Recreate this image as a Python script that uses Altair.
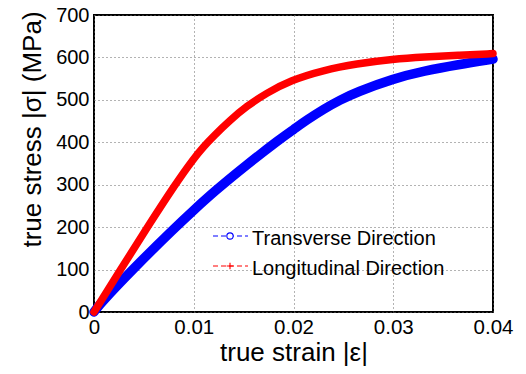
import altair as alt
import pandas as pd

# Transverse Direction (blue circles)
trans_strain = [0, 0.00067, 0.00384, 0.00817, 0.010, 0.012, 0.0153, 0.01866,
                0.020, 0.0213, 0.023, 0.0247, 0.0263, 0.030, 0.0331, 0.0365, 0.040]
trans_stress = [0, 21, 100, 200, 240, 283, 347, 408,
                430, 452, 478, 500, 518, 550, 568, 583, 596]

# Longitudinal Direction (red plus)
long_strain = [0, 0.00267, 0.00535, 0.00817, 0.010, 0.011, 0.012, 0.01364,
               0.0153, 0.0173, 0.0197, 0.023, 0.0263, 0.030, 0.0331, 0.0365, 0.040]
long_stress = [0, 100, 200, 302, 362, 390, 415, 452,
               485, 516, 546, 570, 585, 596, 601, 605, 609]

x_ticks = [0, 0.01, 0.02, 0.03, 0.04]
y_ticks = [0, 100, 200, 300, 400, 500, 600, 700]

FONT = "Liberation Sans"
BLUE = "#0000ff"
RED = "#ff0000"

trans_df = pd.DataFrame({"strain": trans_strain, "stress": trans_stress})
long_df = pd.DataFrame({"strain": long_strain, "stress": long_stress})
one_row = pd.DataFrame({"k": [0]})

x_enc = alt.X(
    "strain:Q",
    scale=alt.Scale(domain=[0, 0.04], nice=False, zero=False),
    axis=alt.Axis(
        values=x_ticks,
        labelExpr="datum.value == 0 ? '0' : format(datum.value, '.2f')",
        title="true strain |ε|",
        grid=True, gridDash=[1, 3], gridColor="#666666", gridWidth=1,
        domain=False, ticks=False,
        labelFont=FONT, labelFontSize=20.5, labelColor="black", labelPadding=5,
        labelFlush=False, labelOverlap=False,
        titleFont=FONT, titleFontSize=26, titleFontWeight="normal", titleColor="black",
        titleY=48.5, titleBaseline="alphabetic",
    ),
)
y_enc = alt.Y(
    "stress:Q",
    scale=alt.Scale(domain=[0, 700], nice=False),
    axis=alt.Axis(
        values=y_ticks, format="d",
        title="true stress |σ| (MPa)",
        grid=True, gridDash=[1, 3], gridColor="#666666", gridWidth=1,
        domain=False, ticks=False,
        labelFont=FONT, labelFontSize=20, labelColor="black", labelPadding=5,
        labelFlush=False, labelOverlap=False,
        titleFont=FONT, titleFontSize=26, titleFontWeight="normal", titleColor="black",
        titleX=-54, titleY=114, titleAngle=270, titleAlign="center",
        titleBaseline="alphabetic",
    ),
)

trans_line = alt.Chart(trans_df).mark_line(
    color=BLUE, strokeWidth=9.5, interpolate="basis", strokeCap="round", clip=False
).encode(x=x_enc, y=y_enc)

long_line = alt.Chart(long_df).mark_line(
    color=RED, strokeWidth=7.5, interpolate="basis", strokeCap="round", clip=False
).encode(x="strain:Q", y="stress:Q")

# legend (drawn in plot pixel space, one row each)
def legend_entry(y, color, label, shape, size, fill):
    line = alt.Chart(one_row).mark_rule(color=color, strokeWidth=1.2, strokeDash=[5, 3]).encode(
        x=alt.value(119), x2=alt.value(154), y=alt.value(y)
    )
    mk = alt.Chart(one_row).mark_point(
        shape=shape, size=size, filled=False, fill=fill, stroke=color,
        strokeWidth=1.1, opacity=1, fillOpacity=1
    ).encode(x=alt.value(136), y=alt.value(y))
    txt = alt.Chart(one_row).mark_text(
        align="left", baseline="alphabetic", font=FONT, fontSize=20, color="black"
    ).encode(x=alt.value(158), y=alt.value(y + 9), text=alt.value(label))
    return [line, mk, txt]

leg = legend_entry(221, BLUE, "Transverse Direction", "circle", 40, "white") + \
      legend_entry(251, RED, "Longitudinal Direction", "M-1,0H1M0,-1V1", 45, "transparent")

chart = alt.layer(trans_line, long_line, *leg).properties(
    width=399, height=297,
    autosize=alt.AutoSizeParams(type="none"),
    padding={"left": 86, "top": 7, "right": 25, "bottom": 54},
    background="white",
).configure_view(stroke="black", strokeWidth=2)

chart.save("out.html", embed_options={"renderer": "svg", "actions": False})
